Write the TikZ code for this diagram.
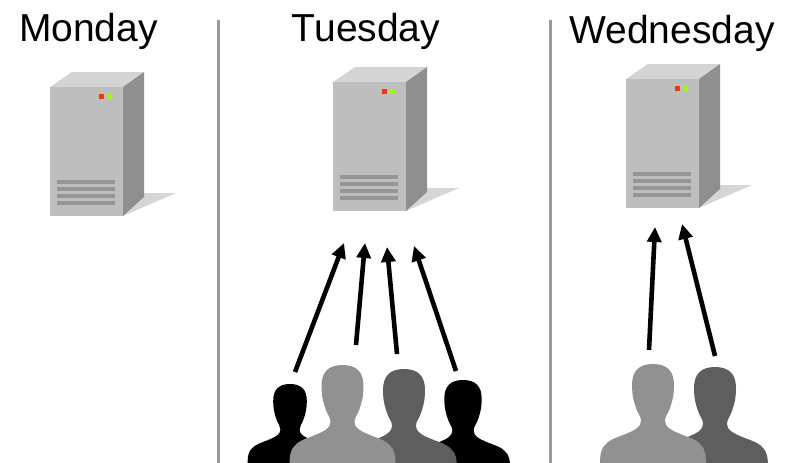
\documentclass[tikz,border=0pt]{standalone}
\usepackage{fontspec}
\setmainfont{Liberation Sans}
\usetikzlibrary{arrows.meta}
\definecolor{srvfront}{HTML}{BEBEBE}
\definecolor{srvtop}{HTML}{D4D4D4}
\definecolor{srvside}{HTML}{8F8F8F}
\definecolor{srvshadow}{HTML}{D6D6D6}
\definecolor{srvvent}{HTML}{969696}
\definecolor{ledred}{HTML}{FF3300}
\definecolor{ledgreen}{HTML}{99FF00}
\definecolor{plight}{HTML}{919191}
\definecolor{pdark}{HTML}{5E5E5E}
\definecolor{divider}{HTML}{999999}
\tikzset{
  daylabel/.style={font=\fontsize{39}{41}\selectfont,inner sep=0pt,anchor=base},
  dividerline/.style={draw=divider,line width=3pt},
  load/.style={draw=black,line width=4.6pt,-{Triangle[length=15pt,width=14pt]}},
  server/.pic={
    \fill[srvshadow] (123,216) -- (176,193) -- (140,193) -- cycle;
    \fill[srvtop] (50,87) -- (72,72) -- (144,72) -- (123,87) -- cycle;
    \fill[srvside] (123,87) -- (144,72) -- (144,197) -- (123,216) -- cycle;
    \fill[srvfront] (50,87) rectangle (123,216);
    \fill[ledred] (99,94) rectangle (104,99);
    \fill[ledgreen] (107,94) rectangle (112,99);
    \foreach \v in {180,187,194,201} \fill[srvvent] (57,\v) rectangle (115,\v+4);
  },
  person/.pic={
    \fill[pic actions]
      (0,0) .. controls (14,0) and (21,7) .. (21,21)
      .. controls (21,32) and (19,38) .. (17,44)
      .. controls (15,50) and (12,52) .. (12,57)
      .. controls (12,63) and (18,66) .. (25,69)
      .. controls (34,73) and (43,75) .. (47,80)
      .. controls (52,84) and (53,90) .. (53,102)
      -- (-53,102)
      .. controls (-53,90) and (-52,84) .. (-47,80)
      .. controls (-43,75) and (-34,73) .. (-25,69)
      .. controls (-18,66) and (-12,63) .. (-12,57)
      .. controls (-12,52) and (-15,50) .. (-17,44)
      .. controls (-19,38) and (-21,32) .. (-21,21)
      .. controls (-21,7) and (-14,0) .. (0,0) -- cycle;
  }
}
\begin{document}
\begin{tikzpicture}[x=1pt,y=-1pt]
\useasboundingbox (0,0) rectangle (787,463);
\clip (0,0) rectangle (787,463);
\node[daylabel] (mon) at (88.5,41) {Monday};
\node[daylabel] (tue) at (366,41) {Tuesday};
\node[daylabel] (wed) at (672,43) {Wednesday};
\coordinate (d1a) at (218,20); \coordinate (d1b) at (218,463);
\coordinate (d2a) at (550,20); \coordinate (d2b) at (550,463);
\draw[dividerline] (d1a) -- (d1b);
\draw[dividerline] (d2a) -- (d2b);
\pic at (0,0) {server};
\pic at (283,-5) {server};
\pic at (576,-8) {server};
% Tuesday users
\pic[fill=black,scale=.8] at (290,384) {person};
\pic[fill=black,scale=.89] at (463,380) {person};
\pic[fill=pdark,scale=1] at (404,369) {person};
\pic[fill=plight] at (342.5,365) {person};
% Wednesday users
\pic[fill=pdark,scale=1] at (715,367) {person};
\pic[fill=plight] at (653,364) {person};
% Connector ends
\coordinate (a1s) at (295,372); \coordinate (a1e) at (344,243);
\coordinate (a2s) at (356,345); \coordinate (a2e) at (365,243);
\coordinate (a3s) at (397,354); \coordinate (a3e) at (387,247);
\coordinate (a4s) at (456,371); \coordinate (a4e) at (414,246);
\coordinate (a5s) at (649,350); \coordinate (a5e) at (655,227);
\coordinate (a6s) at (715,356); \coordinate (a6e) at (682,224);
\foreach \k in {1,...,6} \draw[load] (a\k s) -- (a\k e);
\end{tikzpicture}
\end{document}
